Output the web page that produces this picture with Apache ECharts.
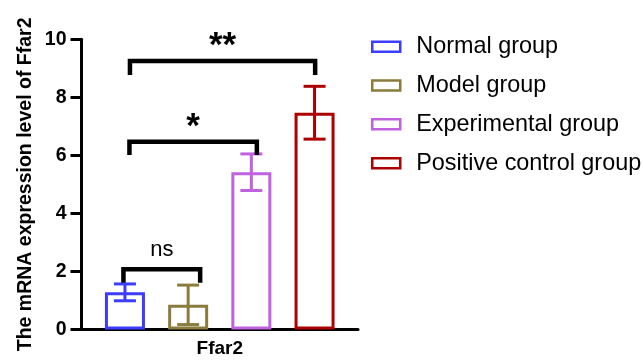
<!DOCTYPE html>
<html>
<head>
<meta charset="utf-8">
<script src="https://cdn.jsdelivr.net/npm/echarts@6/dist/echarts.min.js"></script>
<style>
html,body{margin:0;padding:0;background:#fff;}
#c{width:643px;height:361px;}
</style>
</head>
<body>
<div id="c"></div>
<script>
// ---- data ----
const categories = ['Ffar2'];
const groupNames = ['Normal group', 'Model group', 'Experimental group', 'Positive control group'];
const means = [1.28, 0.85, 5.42, 7.47];
const errs = [0.29, 0.68, 0.63, 0.91];
const yTicks = [0, 2, 4, 6, 8, 10];
// brackets: [leftGroup, rightGroup, bracketY, legBottomY, label]
const brackets = [
  [0, 1, 2.08, 1.61, 'ns'],
  [0, 2, 6.47, 6.01, '*'],
  [0, 3, 9.25, 8.77, '**']
];

// ---- styling ----
const colors = ['#3d3dff', '#8b7b3c', '#c062e0', '#ad0000'];
const BAR_W = 40, BAR_GAP = 0.58;
const SPACING = BAR_W * (1 + BAR_GAP);
const bracketNudge = [[-1.5, 12], [4.5, 5.5], [5, 0.6]];
const labelStyle = [
  { font: 'normal 22px "Liberation Sans", Arial, sans-serif', dy: -8 },
  { font: 'bold 35px "Liberation Sans", Arial, sans-serif', dy: 3 },
  { font: 'bold 35px "Liberation Sans", Arial, sans-serif', dy: 3 }
];

const chart = echarts.init(document.getElementById('c'), null, { renderer: 'canvas' });

const barSeries = groupNames.map((name, i) => ({
  name: name,
  type: 'bar',
  data: [means[i]],
  barWidth: BAR_W,
  barGap: (BAR_GAP * 100) + '%',
  itemStyle: { color: 'rgba(255,255,255,0)', borderColor: colors[i], borderWidth: 3 },
  emphasis: { disabled: true },
  z: 2
}));

const errSeries = groupNames.map((name, i) => ({
  type: 'custom',
  name: name + ' err',
  data: [[0, means[i], errs[i]]],
  z: 3,
  silent: true,
  renderItem: function (params, api) {
    const m = api.value(1), e = api.value(2);
    const top = api.coord([api.value(0), m + e]);
    const bot = api.coord([api.value(0), m - e]);
    const x = top[0] + (i - 1.5) * SPACING;
    const hw = 11;
    const st = { stroke: colors[i], lineWidth: 3 };
    return {
      type: 'group',
      children: [
        { type: 'line', shape: { x1: x, y1: top[1], x2: x, y2: bot[1] }, style: st },
        { type: 'line', shape: { x1: x - hw, y1: top[1], x2: x + hw, y2: top[1] }, style: st },
        { type: 'line', shape: { x1: x - hw, y1: bot[1], x2: x + hw, y2: bot[1] }, style: st }
      ]
    };
  }
}));

const bracketSeries = {
  type: 'custom',
  name: 'brackets',
  silent: true,
  z: 5,
  data: brackets.map((b, k) => [k, b[0], b[1], b[2], b[3]]),
  renderItem: function (params, api) {
    const k = api.value(0);
    const l = api.value(1), r = api.value(2);
    const yTop = api.coord([0, api.value(3)]);
    const yLeg = api.coord([0, api.value(4)]);
    const cx = yTop[0];
    const xl = cx + (l - 1.5) * SPACING + bracketNudge[k][0];
    const xr = cx + (r - 1.5) * SPACING + bracketNudge[k][1];
    const st = { stroke: '#000', lineWidth: 4.5, lineJoin: 'miter', fill: null };
    return {
      type: 'group',
      children: [
        { type: 'polyline', shape: { points: [[xl, yLeg[1]], [xl, yTop[1]], [xr, yTop[1]], [xr, yLeg[1]]] }, style: st },
        { type: 'text', x: (xl + xr) / 2, y: yTop[1] + labelStyle[k].dy,
          style: { text: brackets[k][4], font: labelStyle[k].font, fill: '#000', align: 'center', verticalAlign: 'bottom' } }
      ]
    };
  }
};

chart.setOption({
  animation: false,
  backgroundColor: '#fff',
  grid: { left: 81.5, right: 285, top: 39.3, bottom: 31.5, containLabel: false },
  legend: {
    orient: 'vertical',
    left: 366,
    top: 30,
    itemWidth: 28,
    itemHeight: 10,
    itemGap: 15.3,
    data: groupNames.map((n, i) => ({
      name: n,
      icon: 'rect',
      itemStyle: { color: '#fff', borderColor: colors[i], borderWidth: 2.5 }
    })),
    textStyle: { fontSize: 23.4, color: '#000', fontFamily: '"Liberation Sans", Arial, sans-serif', padding: [0, 0, 0, 11], lineHeight: 23.5 },
    selectedMode: false
  },
  xAxis: {
    type: 'category',
    data: categories,
    axisLine: { lineStyle: { color: '#000', width: 3 } },
    axisTick: { alignWithLabel: true, length: 7, lineStyle: { color: '#000', width: 2.5 } },
    axisLabel: { color: '#000', fontWeight: 'bold', fontSize: 19, fontFamily: '"Liberation Sans", Arial, sans-serif', margin: 10 },
    splitLine: { show: false }
  },
  yAxis: {
    type: 'value',
    min: yTicks[0],
    max: yTicks[yTicks.length - 1],
    interval: yTicks[1] - yTicks[0],
    name: 'The mRNA expression level of Ffar2',
    nameLocation: 'middle',
    nameRotate: 90,
    nameGap: 46,
    nameTextStyle: { color: '#000', fontWeight: 'bold', fontSize: 19.5, fontFamily: '"Liberation Sans", Arial, sans-serif' },
    axisLine: { show: true, lineStyle: { color: '#000', width: 3 } },
    axisTick: { show: true, length: 11, lineStyle: { color: '#000', width: 3 } },
    axisLabel: { color: '#000', fontWeight: 'bold', fontSize: 19.5, fontFamily: '"Liberation Sans", Arial, sans-serif', margin: 15 },
    splitLine: { show: false }
  },
  series: barSeries.concat(errSeries).concat([bracketSeries])
});
</script>
</body>
</html>
